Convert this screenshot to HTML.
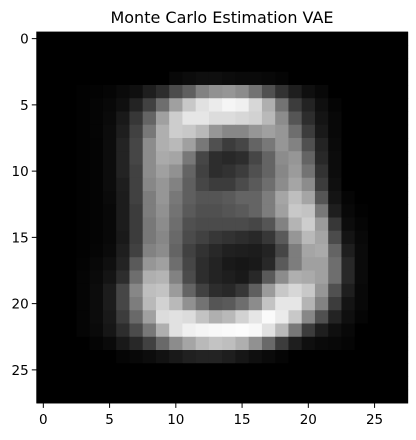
<!DOCTYPE html>
<html><head><meta charset="utf-8"><style>
body{margin:0;background:#fff;font-family:"Liberation Sans","DejaVu Sans",sans-serif;}
svg text{font-family:"DejaVu Sans","Liberation Sans",sans-serif;}
</style></head><body>
<svg id="chart" width="416" height="435" viewBox="0 0 416 435" xmlns="http://www.w3.org/2000/svg">
<text x="222" y="23" font-size="16" text-anchor="middle" fill="#000">Monte Carlo Estimation VAE</text>
<g id="cells"></g>
<g id="axes"></g>
</svg>
<script>
const tickValues = [0,5,10,15,20,25];
const row0 = [0,0,0,0,0,0,0,0,0,0,0,0,0,0,0,0,0,0,0,0,0,0,0,0,0,0,0,0];
const row3 = [0,0,0,0,0,0,0,0,0,0,8,12,15,15,12,10,10,8,5,0,0,0,0,0,0,0,0,0];
const row4 = [0,0,0,2,3,5,10,15,30,45,75,95,130,145,150,140,115,80,50,30,15,8,0,0,0,0,0,0];
const row5 = [0,0,0,2,5,8,15,35,65,110,160,200,225,235,245,240,215,175,115,60,35,15,5,0,0,0,0,0];
const row6 = [0,0,0,2,5,10,25,55,100,160,205,230,230,220,220,215,210,185,140,85,45,20,8,0,0,0,0,0];
const row7 = [0,0,0,2,5,12,30,65,120,175,205,200,185,150,135,135,150,160,150,110,60,25,8,0,0,0,0,0];
const row8 = [0,0,0,2,4,12,35,70,140,175,185,160,120,80,60,70,100,120,150,130,80,35,10,0,0,0,0,0];
const row9 = [0,0,0,2,4,12,35,70,140,170,165,120,70,45,40,45,70,100,140,150,100,40,12,0,0,0,0,0];
const row10 = [0,0,0,2,4,12,35,65,140,160,145,100,65,45,50,60,80,100,135,155,115,50,12,0,0,0,0,0];
const row11 = [0,0,0,2,4,12,30,65,135,150,130,95,70,60,60,75,90,110,140,165,140,60,15,0,0,0,0,0];
const row12 = [0,0,0,2,4,10,28,65,125,150,120,95,85,85,90,100,100,125,165,190,165,85,20,5,0,0,0,0];
const row13 = [0,0,0,2,4,8,28,60,125,145,115,90,80,80,85,90,100,125,160,200,195,120,30,8,2,0,0,0];
const row14 = [0,0,0,2,4,8,28,60,120,140,110,80,75,75,75,75,70,85,130,180,205,155,55,12,5,0,0,0];
const row15 = [0,0,0,2,4,8,25,60,120,135,105,75,65,55,50,45,40,55,90,150,185,165,75,20,8,0,0,0];
const row16 = [0,0,0,2,5,10,30,65,130,140,100,65,50,40,32,30,28,35,70,125,165,170,100,30,10,0,0,0];
const row17 = [0,0,0,3,8,15,35,90,150,160,110,70,45,35,25,22,25,40,90,125,160,160,110,40,10,0,0,0];
const row18 = [0,0,0,5,10,20,45,110,175,180,130,75,45,35,30,25,40,90,140,175,170,160,110,40,10,0,0,0];
const row19 = [0,0,0,5,12,28,70,135,190,195,155,100,65,45,40,55,95,155,200,215,200,150,80,30,8,0,0,0];
const row20 = [0,0,0,5,12,28,70,125,185,210,185,145,115,85,90,110,140,195,230,230,180,130,60,20,8,0,0,0];
const row21 = [0,0,0,5,12,25,60,105,160,220,225,220,195,175,185,210,230,250,235,200,135,80,35,15,5,0,0,0];
const row22 = [0,0,0,5,10,22,45,75,120,175,225,240,245,248,250,252,248,225,185,120,60,30,15,8,0,0,0,0];
const row23 = [0,0,0,0,5,10,25,40,65,105,140,165,185,195,190,175,145,105,60,30,15,10,8,5,0,0,0,0];
const row24 = [0,0,0,0,0,0,5,8,12,18,25,32,35,35,30,22,15,10,5,0,0,0,0,0,0,0,0,0];
const pixels = [row0,row0,row0,row3,row4,row5,row6,row7,row8,row9,row10,row11,row12,row13,row14,row15,row16,row17,row18,row19,row20,row21,row22,row23,row24,row0,row0,row0];

const NS="http://www.w3.org/2000/svg";
const X0=36.7, Y0=32, CELL=13.25, N=28;
const xPos = i => X0 + i*CELL;
const yPos = r => Y0 + r*CELL;
const cells=document.getElementById('cells');
for(let r=0;r<N;r++){for(let c=0;c<N;c++){
  const v=pixels[r][c];
  const rect=document.createElementNS(NS,'rect');
  
  
  rect.setAttribute('x',xPos(c)); rect.setAttribute('y',yPos(r));
  rect.setAttribute('width',CELL+0.4); rect.setAttribute('height',CELL+0.4);
  rect.setAttribute('fill',`rgb(${v},${v},${v})`);
  cells.appendChild(rect);
}}
const axes=document.getElementById('axes');
const frame=document.createElementNS(NS,'rect');


frame.setAttribute('x',X0);frame.setAttribute('y',Y0);frame.setAttribute('width',N*CELL);frame.setAttribute('height',N*CELL);
frame.setAttribute('fill','none');frame.setAttribute('stroke','#000');frame.setAttribute('stroke-width','0.8');
axes.appendChild(frame);
const bottom=Y0+N*CELL;
tickValues.forEach(t=>{
  const cx=xPos(t)+CELL/2, cy=yPos(t)+CELL/2;
  const xt=document.createElementNS(NS,'line');
  
  
  xt.setAttribute('x1',cx);xt.setAttribute('x2',cx);xt.setAttribute('y1',bottom);xt.setAttribute('y2',bottom+4.9);xt.setAttribute('stroke','#000');xt.setAttribute('stroke-width','1');
  axes.appendChild(xt);
  const xl=document.createElementNS(NS,'text');
  
  
  xl.setAttribute('x',cx);xl.setAttribute('y',bottom+21);xl.setAttribute('font-size','13.5');xl.setAttribute('text-anchor','middle');
  xl.textContent=t; axes.appendChild(xl);
  const yt=document.createElementNS(NS,'line');
  
  
  yt.setAttribute('x1',X0-4.9);yt.setAttribute('x2',X0);yt.setAttribute('y1',cy);yt.setAttribute('y2',cy);yt.setAttribute('stroke','#000');yt.setAttribute('stroke-width','1');
  axes.appendChild(yt);
  const yl=document.createElementNS(NS,'text');
  
  
  yl.setAttribute('x',X0-8);yl.setAttribute('y',cy+5);yl.setAttribute('font-size','13.5');yl.setAttribute('text-anchor','end');
  yl.textContent=t; axes.appendChild(yl);
});
</script>
</body></html>
